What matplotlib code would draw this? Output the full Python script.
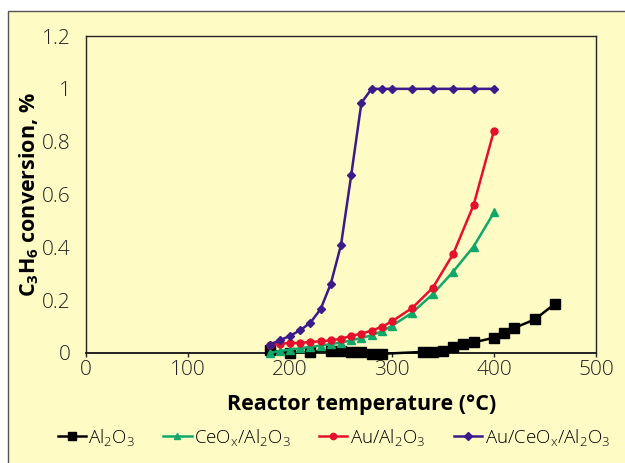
import numpy as np
import matplotlib
matplotlib.use("Agg")
import matplotlib.pyplot as plt
from matplotlib.patches import Rectangle

plt.rcParams['font.family'] = ['Open Sans', 'DejaVu Sans']
plt.rcParams['mathtext.default'] = 'regular'

# Al2O3
t_al = [180, 200, 220, 240, 250, 260, 270, 280, 290, 330, 340, 350, 360, 370, 380, 400, 410, 420, 440, 460]
c_al = [0.01, 0.0, 0.004, 0.009, 0.009, 0.003, 0.003, -0.003, -0.003, 0.004, 0.004, 0.009, 0.023, 0.033, 0.04, 0.058, 0.077, 0.095, 0.127, 0.187]

# common temperature grid for the other catalysts
t_cat = [180, 190, 200, 210, 220, 230, 240, 250, 260, 270, 280, 290, 300, 320, 340, 360, 380, 400]
c_ceox = [0.0, 0.008, 0.013, 0.018, 0.023, 0.028, 0.034, 0.039, 0.048, 0.057, 0.067, 0.082, 0.103, 0.153, 0.223, 0.308, 0.403, 0.532]
c_au = [0.03, 0.035, 0.038, 0.038, 0.042, 0.044, 0.048, 0.054, 0.065, 0.073, 0.085, 0.099, 0.12, 0.171, 0.247, 0.375, 0.56, 0.842]
c_auceox = [0.032, 0.048, 0.065, 0.086, 0.115, 0.166, 0.262, 0.409, 0.673, 0.947, 1.0, 1.0, 1.0, 1.0, 1.0, 1.0, 1.0, 1.0]

bg = '#fffbc5'
fig = plt.figure(figsize=(6.25, 4.63), dpi=100)
fig.patch.set_facecolor('white')
# yellow panel with thin frame on left and top
panel = Rectangle((8/625, -0.05), 1.2, 1 - 11/463 + 0.05, transform=fig.transFigure,
                  facecolor=bg, edgecolor='#555555', linewidth=1.0, zorder=-10)
fig.patches.append(panel)

ax = fig.add_axes([86/625, 1 - 353/463, (596-86)/625, (353-36)/463])
ax.set_facecolor(bg)

ax.plot(t_al, c_al, color='black', marker='s', markersize=6.5, linewidth=1.8, label='Al$_2$O$_3$', zorder=3, clip_on=False)
ax.plot(t_cat, c_ceox, color='#10a868', marker='^', markersize=5.5, linewidth=1.8, label='CeO$_x$/Al$_2$O$_3$', zorder=3, clip_on=False)
ax.plot(t_cat, c_au, color='#e5102c', marker='o', markersize=5, linewidth=1.8, label='Au/Al$_2$O$_3$', zorder=4, clip_on=False)
ax.plot(t_cat, c_auceox, color='#3d1a8a', marker='D', markersize=4.5, linewidth=1.8, label='Au/CeO$_x$/Al$_2$O$_3$', zorder=5, clip_on=False)

ax.set_xlim(0, 500)
ax.set_ylim(0, 1.2)
ax.set_xticks(np.arange(0, 501, 100))
ax.set_yticks([0, 0.2, 0.4, 0.6, 0.8, 1.0, 1.2])
ax.set_yticklabels(['0', '0.2', '0.4', '0.6', '0.8', '1', '1.2'])
ax.tick_params(axis='x', direction='out', length=3, width=1, labelsize=15, colors='#222222', pad=2)
ax.tick_params(axis='y', length=0, labelsize=15, colors='#222222', pad=11)
for lab in ax.get_xticklabels() + ax.get_yticklabels():
    lab.set_fontweight('light')
for s in ax.spines.values():
    s.set_linewidth(1.0)
    s.set_color('#222222')
ax.spines['bottom'].set_linewidth(1.4)

ax.set_xlabel('Reactor temperature (°C)', fontsize=15.5, fontweight='bold')
ax.xaxis.set_label_coords(0.54, -0.13)
ax.set_ylabel('C$_3$H$_6$ conversion, %', fontsize=15.5, fontweight='bold', labelpad=1)

leg = fig.legend(loc='center', bbox_to_anchor=(0.534, 1 - 437/463), ncol=4, frameon=False,
                 prop={'size': 13.5, 'weight': 'light'}, handlelength=1.5, handletextpad=0.15,
                 columnspacing=1.5, markerscale=0.9)

fig.savefig('out.png', dpi=100, facecolor=fig.get_facecolor())
